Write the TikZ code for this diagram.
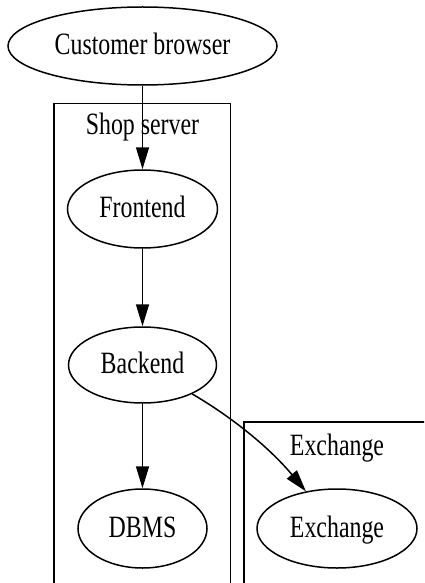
\documentclass[tikz,border=0pt]{standalone}
\usepackage{fontspec}
\newfontfamily\gvfont[FakeStretch=0.77]{Liberation Serif}
\usetikzlibrary{arrows.meta,shapes.geometric}
\tikzset{
  gv/.style={font=\gvfont\fontsize{31}{37}\selectfont},
  nodeell/.style={gv, draw, ellipse, line width=1.5pt, inner sep=0pt, text height=17pt, text depth=0pt},
  edge/.style={line width=1.5pt, -{Triangle[length=22pt,width=13pt]}},
  clusterline/.style={line width=1.5pt},
  clusterlabel/.style={gv, anchor=base, inner sep=0pt}
}
\begin{document}
\begin{tikzpicture}[x=1pt,y=-1pt]
\useasboundingbox (0,0) rectangle (424,583);
\clip (0,0) rectangle (424,583);
% clusters
\draw[clusterline] (54,600) -- (54,103.5) -- (230.5,103.5) -- (230.5,600);
\node[clusterlabel] (shoplbl) at (142.5,135) {Shop server};
\draw[clusterline] (244,600) -- (244,422) -- (440,422);
\node[clusterlabel] (exlbl) at (337,455) {Exchange};
% nodes
\node[nodeell, minimum width=269pt, minimum height=78pt] (cb) at (142.5,46) {Customer browser};
\node[nodeell, minimum width=150pt, minimum height=78pt] (fe) at (142.5,209) {Frontend};
\node[nodeell, minimum width=148pt, minimum height=76pt] (be) at (142.5,365) {Backend};
\node[nodeell, minimum width=129pt, minimum height=79pt] (db) at (142.5,528.5) {DBMS};
\node[nodeell, minimum width=160pt, minimum height=79pt] (ex) at (337,528.5) {Exchange};
% edges
\draw[edge] (cb) -- (fe);
\draw[edge] (fe) -- (be);
\draw[edge] (be) -- (db);
\draw[edge] (be) .. controls (230,416) and (268,446) .. (ex);
\end{tikzpicture}
\end{document}
